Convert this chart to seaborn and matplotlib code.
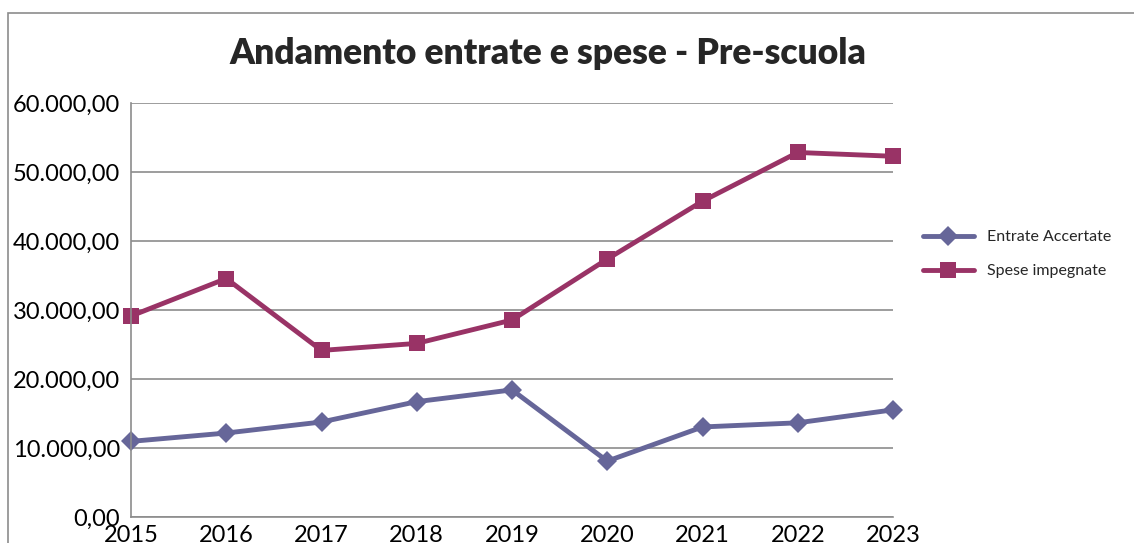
import matplotlib
matplotlib.use("Agg")
import matplotlib.pyplot as plt
import matplotlib.ticker as mticker
from matplotlib.patches import Rectangle
import seaborn as sns
import pandas as pd

years = [2015, 2016, 2017, 2018, 2019, 2020, 2021, 2022, 2023]
entrate = [10960, 12170, 13770, 16720, 18420, 8100, 13050, 13650, 15530]
spese = [29130, 34560, 24140, 25160, 28550, 37380, 45770, 52830, 52280]
series_names = ["Entrate Accertate", "Spese impegnate"]
title = "Andamento entrate e spese - Pre-scuola"

df = pd.DataFrame({
    "Anno": years * 2,
    "Valore": entrate + spese,
    "Serie": [series_names[0]] * len(years) + [series_names[1]] * len(years),
})

sns.set_theme(style="white")
plt.rcParams["font.family"] = ["Lato", "DejaVu Sans"]

fig = plt.figure(figsize=(11.34, 5.43), dpi=100)
ax = fig.add_axes([131 / 1134, 1 - 517 / 543, (893 - 131) / 1134, (517 - 103) / 543])

palette = {series_names[0]: "#666699", series_names[1]: "#993366"}
markers = {series_names[0]: "D", series_names[1]: "s"}
sns.lineplot(data=df, x="Anno", y="Valore", hue="Serie", style="Serie",
             palette=palette, markers=markers, dashes=False, linewidth=3.5,
             markersize=11, markeredgewidth=0, ax=ax, clip_on=False)
for ln in ax.lines:
    ln.set_clip_on(False)
    if ln.get_marker() == "D":
        ln.set_markersize(10)

ax.set_xlim(2015, 2023)
ax.set_ylim(0, 60000)
ax.set_yticks(range(0, 60001, 10000))
ax.set_xticks(years)
ax.yaxis.set_major_formatter(mticker.FuncFormatter(
    lambda v, p: f"{v:,.2f}".replace(",", "X").replace(".", ",").replace("X", ".")))
ax.grid(axis="y", color="#8c8c8c", linewidth=1.2)
ax.set_axisbelow(True)
for s in ["top", "right"]:
    ax.spines[s].set_visible(False)
for s in ["left", "bottom"]:
    ax.spines[s].set_color("#8c8c8c")
    ax.spines[s].set_linewidth(1.2)
ax.tick_params(axis="both", length=0, labelsize=17, colors="black")
ax.tick_params(axis="y", pad=8)
ax.tick_params(axis="x", pad=6)
ax.set_xlabel("")
ax.set_ylabel("")

leg = ax.legend(loc="center left", bbox_to_anchor=(1.02, 0.635), frameon=False,
                fontsize=11.5, handlelength=3.2, labelspacing=1.25)
for h in leg.legend_handles:
    h.set_linewidth(3.5)

fig.text(548 / 1134, 1 - 53 / 543, title, ha="center", va="center",
         fontsize=25.5, fontweight="heavy")

fig.patches.append(Rectangle((8 / 1134, -0.5), 2, 1 - 13 / 543 + 0.5,
                             transform=fig.transFigure, fill=False,
                             edgecolor="#8c8c8c", linewidth=1.2))

fig.savefig("out.png", dpi=100)
